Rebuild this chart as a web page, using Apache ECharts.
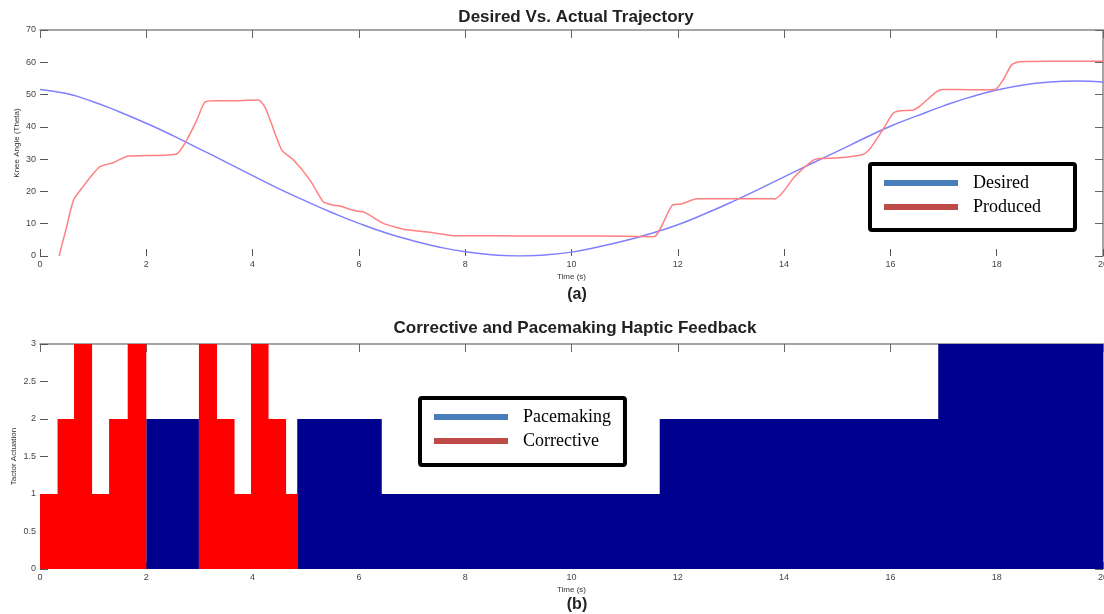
<!DOCTYPE html>
<html><head><meta charset="utf-8">
<script src="https://cdn.jsdelivr.net/npm/echarts@6/dist/echarts.min.js"></script>
<style>html,body{margin:0;padding:0;background:#fff}#c{width:1104px;height:614px}</style>
</head><body><div id="c"></div>
<script>
// ---- Top chart: Desired vs. Actual Trajectory ----
const desiredT = [0,0.5,1,1.5,2,2.5,3,3.5,4,4.5,5,5.5,6,6.5,7,7.5,8,8.5,9,9.5,10,10.5,11,11.5,12,12.5,13,13.5,14,14.5,15,15.5,16,16.5,17,17.5,18,18.5,19,19.5,20];
const desiredV = [51.6,50.3,47.8,44.6,41.1,37.3,33.2,29.1,24.9,20.8,17.0,13.4,10.1,7.2,4.8,2.8,1.3,0.4,0.0,0.3,1.2,2.8,4.7,7.0,9.7,13.0,16.6,20.5,24.5,28.5,32.4,36.4,40.2,43.4,46.5,49.2,51.4,53.0,53.9,54.2,53.9];
const producedT = [0.36,0.5,0.63,0.81,1.0,1.13,1.38,1.66,2.0,2.57,2.76,2.95,3.1,3.3,3.7,4.11,4.23,4.33,4.55,4.77,5.08,5.33,5.5,5.64,5.93,6.11,6.46,6.9,7.4,7.78,8.3,9,10,11.0,11.55,11.9,12.07,12.36,13.0,13.83,14.2,14.55,14.68,15.05,15.49,15.62,15.87,16.05,16.18,16.43,16.56,16.87,16.99,17.5,17.97,18.12,18.28,18.44,19,20];
const producedV = [0,9,17.3,21.5,25.5,27.7,28.9,31,31.1,31.6,35.9,42.1,47.6,48.1,48.1,48.3,46.2,42.1,32.8,29.7,23.5,16.8,15.8,15.5,14.0,13.5,10.1,8.1,7.2,6.3,6.3,6.2,6.2,6.1,6.0,15.8,16.1,17.7,17.7,17.7,24.6,29.7,30.2,30.4,31.5,33.3,39.5,44.2,45,45.2,46.5,50.9,51.6,51.5,51.6,54.5,59.2,60.2,60.3,60.3];

// ---- Bottom chart: Corrective and Pacemaking Haptic Feedback (step: value holds until next time) ----
const pacemakingT = [0, 2.0, 2.99, 4.84, 6.43, 11.66, 16.9, 20];
const pacemakingV = [0, 2, 0, 2, 1, 2, 3, 3];
const correctiveT = [0, 0.33, 0.64, 0.98, 1.30, 1.65, 2.0, 2.99, 3.33, 3.66, 3.97, 4.30, 4.63, 4.84, 20];
const correctiveV = [1, 2, 3, 1, 2, 3, 0, 3, 2, 1, 3, 2, 1, 0, 0];

const timeMin = 0, timeMax = 20, timeStep = 2;

const pairs = (t, v) => t.map((x, i) => [x, v[i]]);

const FONT = 'Liberation Sans';
const tickLbl = {fontSize: 9, color: '#444', fontFamily: FONT, margin: 4};

function xBottom(gi) {
  return {type:'value', gridIndex:gi, min:timeMin, max:timeMax, interval:timeStep, position:'bottom',
    axisLine:{show:false, onZero:false}, axisTick:{inside:true, length:7, lineStyle:{color:'#555'}},
    axisLabel:tickLbl, splitLine:{show:false},
    name:'Time (s)', nameLocation:'middle', nameGap:17, nameMoveOverlap:false,
    nameTextStyle:{fontSize:8, color:'#333', fontFamily:FONT}};
}
function xTop(gi) {
  return {type:'value', gridIndex:gi, min:timeMin, max:timeMax, interval:timeStep, position:'top',
    axisLine:{show:true, onZero:false, lineStyle:{color:'#888', width:1.5}}, axisTick:{inside:true, length:8, lineStyle:{color:'#666'}},
    axisLabel:{show:false}, splitLine:{show:false}};
}
function yLeft(gi, max, interval, name, gap) {
  return {type:'value', gridIndex:gi, min:0, max:max, interval:interval, position:'left',
    axisLine:{show:false, onZero:false}, axisTick:{show:true, inside:true, length:8, lineStyle:{color:'#555'}},
    axisLabel:tickLbl, splitLine:{show:false},
    name:name, nameLocation:'middle', nameGap:gap, nameRotate:90, nameMoveOverlap:false,
    nameTextStyle:{fontSize:8, color:'#333', fontFamily:FONT}};
}
function yRight(gi, max, interval) {
  return {type:'value', gridIndex:gi, min:0, max:max, interval:interval, position:'right',
    axisLine:{show:true, onZero:false, lineStyle:{color:'#888', width:1.5}}, axisTick:{show:true, inside:true, length:8, lineStyle:{color:'#666'}},
    axisLabel:{show:false}, splitLine:{show:false}};
}

const legendCommon = {
  orient:'vertical', icon:'rect', itemWidth:74, itemHeight:6, itemGap:6,
  borderColor:'#000', borderWidth:4, borderRadius:2, backgroundColor:'#fff',
  selectedMode:false,
  textStyle:{fontFamily:'Liberation Serif', fontSize:18, color:'#000', padding:[0,0,0,10], lineHeight:18}
};

const titleStyle = {fontSize:17, fontWeight:'bold', color:'#222', fontFamily:FONT};
const labelStyle = {fontSize:16, fontWeight:'bold', color:'#222', fontFamily:FONT};

const chart = echarts.init(document.getElementById('c'), null, {renderer:'canvas'});
chart.setOption({
  animation:false,
  backgroundColor:'#fff',
  title:[
    {text:'Desired Vs. Actual Trajectory', left:571, top:4, textAlign:'center', textStyle:titleStyle},
    {text:'(a)', left:572, top:282, textAlign:'center', textStyle:labelStyle},
    {text:'Corrective and Pacemaking Haptic Feedback', left:570, top:315, textAlign:'center', textStyle:titleStyle},
    {text:'(b)', left:572, top:592, textAlign:'center', textStyle:labelStyle}
  ],
  grid:[
    {left:40, top:30, width:1063, height:226, containLabel:false, outerBoundsMode:'none'},
    {left:40, top:344, width:1063, height:225, containLabel:false, outerBoundsMode:'none'}
  ],
  xAxis:[xBottom(0), xTop(0), xBottom(1), xTop(1)],
  yAxis:[
    yLeft(0, 70, 10, 'Knee Angle (Theta)', 19), yRight(0, 70, 10),
    yLeft(1, 3, 0.5, 'Tactor Actuation', 22), yRight(1, 3, 0.5)
  ],
  legend:[
    Object.assign({}, legendCommon, {left:870, top:164, padding:[10,34,14,14],
      data:[{name:'Desired', itemStyle:{color:'#4a7ebb'}}, {name:'Produced', itemStyle:{color:'#be4b48'}}]}),
    Object.assign({}, legendCommon, {left:420, top:398, padding:[10,14,15,14],
      data:[{name:'Pacemaking', itemStyle:{color:'#4a7ebb'}}, {name:'Corrective', itemStyle:{color:'#be4b48'}}]})
  ],
  series:[
    {name:'Desired', type:'line', xAxisIndex:0, yAxisIndex:0, data:pairs(desiredT, desiredV),
      showSymbol:false, symbol:'none', smooth:0.5,
      lineStyle:{color:'#7f7fff', width:1.5}, itemStyle:{color:'#7f7fff'}},
    {name:'Produced', type:'line', xAxisIndex:0, yAxisIndex:0, data:pairs(producedT, producedV),
      showSymbol:false, symbol:'none', smooth:0.2,
      lineStyle:{color:'#ff8080', width:1.5}, itemStyle:{color:'#ff8080'}},
    {name:'Pacemaking', type:'line', xAxisIndex:2, yAxisIndex:2, data:pairs(pacemakingT, pacemakingV),
      step:'end', showSymbol:false, symbol:'none',
      lineStyle:{width:0, color:'#00008f'}, itemStyle:{color:'#00008f'},
      areaStyle:{color:'#00008f', opacity:1}},
    {name:'Corrective', type:'line', xAxisIndex:2, yAxisIndex:2, data:pairs(correctiveT, correctiveV),
      step:'end', showSymbol:false, symbol:'none',
      lineStyle:{width:0, color:'#ff0000'}, itemStyle:{color:'#ff0000'},
      areaStyle:{color:'#ff0000', opacity:1}}
  ]
});
</script>
</body></html>
